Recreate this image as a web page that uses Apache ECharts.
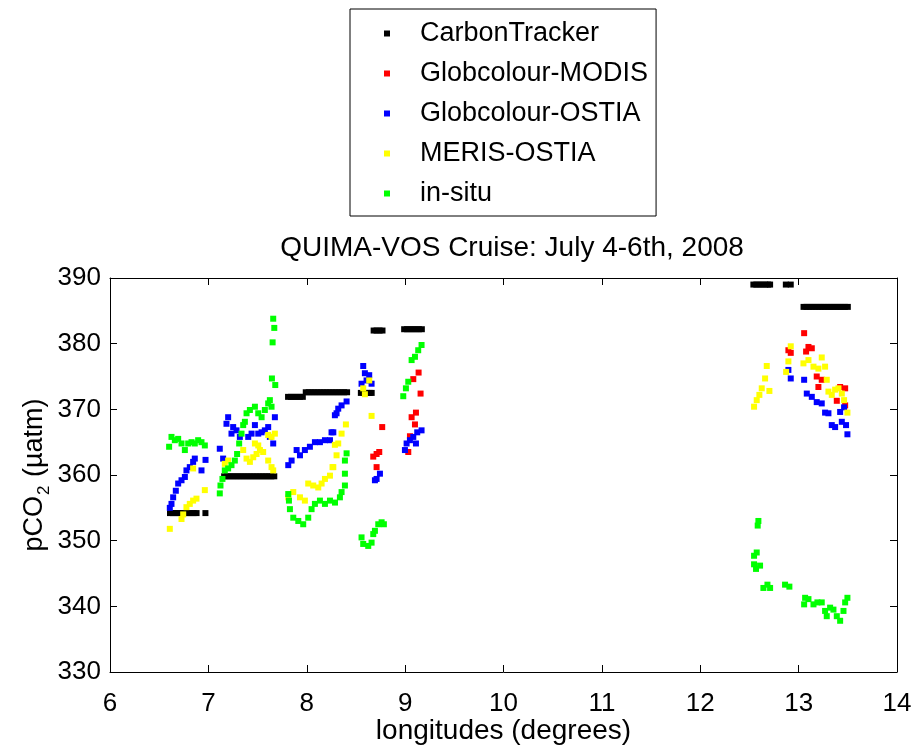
<!DOCTYPE html>
<html>
<head>
<meta charset="utf-8">
<script src="https://cdn.jsdelivr.net/npm/echarts@6/dist/echarts.min.js"></script>
<style>
html,body{margin:0;padding:0;background:#fff;}
#chart{width:914px;height:746px;}
</style>
</head>
<body>
<div id="chart"></div>
<script>
// ---- data (longitude in degrees, pCO2 in µatm) ----
var ctLon = [6.61,6.64,6.67,6.70,6.73,6.76,6.79,6.82,6.85,6.88,6.97,
  7.16,7.19,7.22,7.25,7.28,7.31,7.34,7.37,7.40,7.43,7.46,7.49,7.52,7.55,7.58,7.61,7.64,7.67,
  7.81,7.84,7.87,7.90,7.93,7.96,
  7.99,8.02,8.05,8.08,8.11,8.14,8.17,8.20,8.23,8.26,8.29,8.32,8.35,8.38,8.41,
  8.55,8.58,8.61,8.64,8.66,
  8.68,8.71,8.74,8.77,
  8.99,9.02,9.05,9.08,9.11,9.14,9.17,
  12.54,12.57,12.60,12.63,12.66,12.69,12.71,
  12.87,12.92,
  13.05,13.08,13.11,13.14,13.17,13.20,13.23,13.26,13.29,13.32,13.35,13.38,13.41,13.44,13.47,13.50];
var ctVal = [354.2,354.2,354.2,354.2,354.2,354.2,354.2,354.2,354.2,354.2,354.2,
  359.8,359.8,359.8,359.8,359.8,359.8,359.8,359.8,359.8,359.8,359.8,359.8,359.8,359.8,359.8,359.8,359.8,359.8,
  371.9,371.9,371.9,371.9,371.9,371.9,
  372.6,372.6,372.6,372.6,372.6,372.6,372.6,372.6,372.6,372.6,372.6,372.6,372.6,372.6,372.6,
  372.5,372.5,372.5,372.5,372.5,
  382.0,382.0,382.0,382.0,
  382.2,382.2,382.2,382.2,382.2,382.2,382.2,
  389.0,389.0,389.0,389.0,389.0,389.0,389.0,
  389.0,389.0,
  385.6,385.6,385.6,385.6,385.6,385.6,385.6,385.6,385.6,385.6,385.6,385.6,385.6,385.6,385.6,385.6];

var modisLon = [8.676,8.710,8.737,8.710,8.767,
  9.032,9.049,9.100,9.066,9.110,9.157,9.083,9.137,
  12.896,12.920,13.056,13.100,13.134,13.076,13.184,13.235,13.201,13.422,13.473,13.388,13.473];
var modisVal = [362.8,363.2,363.5,361.2,367.3,
  363.5,365.9,367.7,368.8,369.5,372.4,374.6,375.6,
  379.0,378.6,381.6,379.5,379.3,378.8,375.0,374.5,373.4,373.4,373.2,371.3,370.6];

var ostiaLon = [6.608,6.625,6.642,6.669,6.693,6.727,6.761,6.777,6.811,6.845,6.862,6.930,6.971,
  7.116,7.150,7.184,7.201,7.235,7.252,7.286,7.320,7.405,7.439,7.473,7.507,7.541,7.574,7.608,7.625,7.659,7.676,
  7.812,7.846,7.897,7.931,7.981,8.032,8.083,8.134,8.185,8.236,8.252,8.270,8.286,8.303,8.320,8.354,8.405,
  8.557,8.574,8.591,8.608,8.635,8.659,8.693,8.710,8.744,
  8.998,9.015,9.049,9.083,9.110,9.123,9.167,
  12.896,12.920,13.056,13.083,13.134,13.184,13.235,13.269,13.303,13.337,13.371,13.422,13.439,13.462,13.482,13.496];
var ostiaVal = [355.0,355.6,356.6,357.6,358.7,359.2,359.7,360.7,361.2,362.0,362.5,360.7,362.3,
  364.0,362.5,367.8,368.8,366.3,367.3,366.8,365.8,365.8,366.3,367.6,366.3,366.5,366.8,367.3,365.8,364.8,368.8,
  361.5,362.2,363.8,363.0,363.8,364.3,365.0,365.0,365.3,365.3,366.5,366.5,369.1,369.4,370.1,370.6,371.2,
  373.9,376.6,375.5,374.4,375.2,373.9,359.2,359.4,360.2,
  363.8,364.8,365.3,365.8,364.8,366.5,366.8,
  376.0,374.7,374.5,372.4,371.9,371.1,370.9,369.5,369.4,367.6,367.3,369.6,368.1,370.3,367.6,366.2];

var merisLon = [6.608,6.727,6.744,6.777,6.811,6.845,6.879,6.845,6.964,
  7.167,7.201,7.354,7.388,7.422,7.456,7.490,7.524,7.557,7.473,7.507,7.608,7.642,7.676,7.608,7.642,7.659,
  7.812,7.863,7.931,7.981,8.015,8.066,8.117,8.151,8.185,8.236,8.262,8.270,8.286,8.303,8.320,8.354,8.398,
  8.574,8.591,8.635,8.659,
  12.547,12.574,12.601,12.625,12.659,12.676,12.703,12.873,12.896,12.920,13.049,13.100,13.151,13.201,13.235,13.269,13.286,13.303,13.337,13.371,13.405,13.439,13.462,13.496];
var merisVal = [351.8,353.3,354.0,355.1,355.6,356.1,356.4,361.0,357.7,
  361.7,362.2,363.8,362.5,362.0,362.7,363.2,363.8,363.5,364.8,364.5,366.1,365.8,366.3,362.2,361.2,360.7,
  356.6,357.4,356.6,356.1,358.7,358.4,358.1,358.7,359.4,359.9,361.2,361.2,364.6,363.0,364.8,366.3,367.7,
  373.2,372.3,374.4,369.0,
  370.4,371.4,372.2,373.2,374.7,376.6,372.8,375.7,377.3,379.6,377.0,377.5,376.5,376.2,377.9,376.5,374.5,372.7,372.2,373.0,373.2,372.4,371.4,369.5];

var insituLon = [6.601,6.625,6.659,6.693,6.727,6.761,6.795,6.829,6.862,6.896,6.930,6.964,
  7.116,7.123,7.143,7.167,7.201,7.235,7.269,7.292,7.313,7.337,7.354,7.371,7.388,7.422,7.473,7.507,7.541,7.574,7.608,7.625,7.642,7.646,7.680,7.653,7.670,7.659,
  7.812,7.819,7.829,7.863,7.914,7.964,8.015,8.049,8.083,8.134,8.185,8.236,8.287,8.337,8.354,8.388,8.388,8.388,8.405,
  8.557,8.574,8.625,8.659,8.676,8.693,8.727,8.761,8.784,
  8.981,9.008,9.032,9.066,9.100,9.133,9.167,
  12.591,12.584,12.574,12.547,12.547,12.567,12.608,12.642,12.683,12.710,12.862,12.906,13.066,13.056,13.100,13.151,13.191,13.235,13.269,13.286,13.320,13.354,13.388,13.422,13.456,13.473,13.496];
var insituVal = [364.3,365.8,365.3,365.5,364.8,363.8,364.8,365.0,364.8,365.3,365.0,364.5,
  357.2,358.4,359.4,360.7,361.0,361.5,362.2,363.2,364.8,366.3,367.6,368.1,369.4,369.9,370.4,369.4,368.8,369.9,370.9,371.4,370.4,374.7,373.7,380.2,382.4,383.8,
  357.1,356.1,354.8,353.5,353.0,352.5,353.5,354.8,355.6,356.1,355.6,356.1,355.8,356.6,357.4,358.4,360.2,362.2,363.3,
  350.5,349.5,349.2,349.7,351.0,351.5,352.5,352.8,352.5,
  372.0,373.2,374.2,377.5,378.0,379.0,379.8,
  353.0,352.3,348.2,347.7,346.4,345.7,346.2,342.8,343.3,342.8,343.3,343.0,341.3,340.3,341.1,340.3,340.6,340.6,339.3,338.5,339.8,339.5,338.5,337.8,339.3,340.6,341.3];

var seriesNames = ['CarbonTracker','Globcolour-MODIS','Globcolour-OSTIA','MERIS-OSTIA','in-situ'];
var seriesColors = ['#000000','#ff0000','#0000ff','#ffff00','#00ff00'];
var seriesLon = [ctLon, modisLon, ostiaLon, merisLon, insituLon];
var seriesVal = [ctVal, modisVal, ostiaVal, merisVal, insituVal];

function pairs(xs, ys){ var out=[]; for(var i=0;i<xs.length;i++){ out.push([xs[i], ys[i]]); } return out; }

var FONT = "'Liberation Sans', Arial, Helvetica, sans-serif";
var chart = echarts.init(document.getElementById('chart'), null, {renderer:'canvas'});

var series = seriesNames.map(function(n, i){
  return {
    name: n, type: 'scatter', symbol: 'rect', symbolSize: 6,
    itemStyle: {color: seriesColors[i], opacity: 1},
    data: pairs(seriesLon[i], seriesVal[i]),
    z: 2 + i, silent: true
  };
});

var axisCommon = {
  axisLine: {show: true, onZero: false, lineStyle: {color: '#000', width: 1}},
  axisTick: {show: true, inside: true, length: 7, lineStyle: {color: '#000', width: 1}},
  splitLine: {show: false}
};

chart.setOption({
  animation: false,
  backgroundColor: '#ffffff',
  textStyle: {fontFamily: FONT},
  title: {
    text: 'QUIMA-VOS Cruise: July 4-6th, 2008',
    left: 507, top: 229, textAlign: 'center',
    textStyle: {fontSize: 28, fontWeight: 'normal', color: '#000', fontFamily: FONT}
  },
  legend: {
    orient: 'vertical', left: 350, top: 9,
    itemWidth: 6, itemHeight: 6, itemGap: 13,
    padding: [11, 8, 9, 34],
    borderColor: '#000', borderWidth: 1, backgroundColor: '#fff',
    data: seriesNames.map(function(n){ return {name: n, icon: 'rect'}; }),
    textStyle: {fontSize: 27, color: '#000', fontFamily: FONT, padding: [4,0,0,25]}
  },
  grid: {left: 110, right: 17, top: 278, bottom: 74, containLabel: false, outerBoundsMode: 'none'},
  xAxis: [
    Object.assign({}, axisCommon, {
      type: 'value', position: 'bottom', min: 6, max: 14, interval: 1,
      axisLabel: {fontSize: 26, color: '#000', margin: 19, fontFamily: FONT},
      name: 'longitudes (degrees)', nameLocation: 'middle', nameGap: 45, nameMoveOverlap: false,
      nameTextStyle: {fontSize: 28, color: '#000', fontFamily: FONT}
    }),
    Object.assign({}, axisCommon, {
      type: 'value', position: 'top', min: 6, max: 14, interval: 1,
      axisLabel: {show: false}
    })
  ],
  yAxis: [
    Object.assign({}, axisCommon, {
      type: 'value', position: 'left', min: 330, max: 390, interval: 10,
      axisLabel: {fontSize: 26, color: '#000', margin: 9, fontFamily: FONT},
      name: '{a|pCO}{s|2}{a| (µatm)}', nameLocation: 'middle', nameGap: 57, nameMoveOverlap: false,
      nameTextStyle: {
        color: '#000', fontFamily: FONT, fontSize: 27,
        rich: {
          a: {fontSize: 27, color: '#000', fontFamily: FONT},
          s: {fontSize: 17, color: '#000', fontFamily: FONT, padding: [20, 1, 0, 1]}
        }
      }
    }),
    Object.assign({}, axisCommon, {
      type: 'value', position: 'right', min: 330, max: 390, interval: 10,
      axisLabel: {show: false}
    })
  ],
  series: series
});
</script>
</body>
</html>
